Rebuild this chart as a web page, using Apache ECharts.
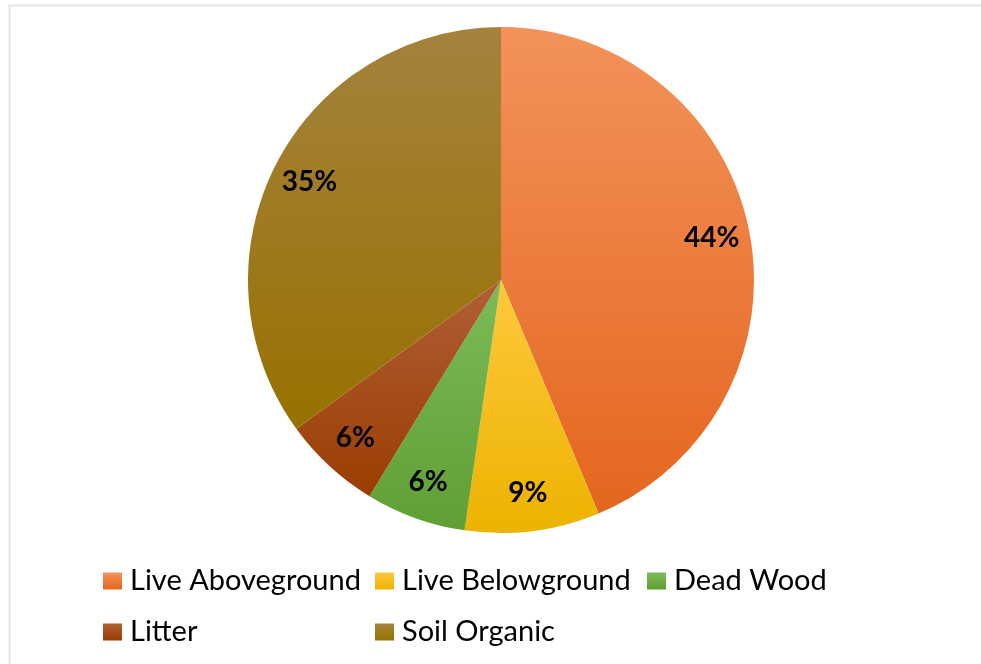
<!DOCTYPE html>
<html>
<head>
<meta charset="utf-8">
<script src="https://cdn.jsdelivr.net/npm/echarts@6/dist/echarts.min.js"></script>
<style>
  html, body { margin: 0; padding: 0; background: #fff; }
  #chart { width: 981px; height: 664px; }
</style>
</head>
<body>
<div id="chart"></div>
<script>
// carbon pool shares (%)
const categories = ['Live Aboveground', 'Live Belowground', 'Dead Wood', 'Litter', 'Soil Organic']
const shares = [43.7, 8.6, 6.4, 6.3, 35.0]

// light top -> dark bottom, like the office-style gradient fill
const topColors = ['#f3925b', '#ffc83c', '#7dbb58', '#b05f38', '#a5823e']
const bottomColors = ['#e4661e', '#ecb300', '#5f9f33', '#9a3d00', '#977100']

const gradient = (i) => new echarts.graphic.LinearGradient(0, 0, 0, 1, [
  { offset: 0, color: topColors[i] },
  { offset: 1, color: bottomColors[i] }
])

const pieData = categories.map((name, i) => ({
  name,
  value: shares[i],
  itemStyle: { color: gradient(i) }
}))

const labelData = categories.map((name, i) => ({ name, value: shares[i] }))

const myChart = echarts.init(document.getElementById('chart'))
myChart.setOption({
  animation: false,
  graphic: [{
    type: 'rect',
    silent: true,
    shape: { x: 9.5, y: 5.5, width: 1000, height: 700 },
    style: { fill: 'none', stroke: '#e3e6ea', lineWidth: 2 }
  }],
  legend: {
    left: 98,
    top: 556,
    width: 830,
    itemWidth: 19,
    itemHeight: 17,
    itemGap: 11,
    icon: 'rect',
    textStyle: {
      fontFamily: 'Lato',
      fontSize: 29,
      color: '#000',
      width: 234,
      lineHeight: 40,
      padding: [0, 0, 0, 3]
    }
  },
  series: [
    {
      name: 'pools',
      type: 'pie',
      center: [501, 280],
      radius: 253,
      startAngle: 90,
      clockwise: true,
      itemStyle: { borderWidth: 0 },
      label: { show: false },
      labelLine: { show: false },
      emphasis: { scale: false },
      data: pieData
    },
    {
      // transparent ring only used to place the labels further out
      name: 'labels',
      type: 'pie',
      center: [501, 280],
      radius: [171, 253],
      startAngle: 90,
      clockwise: true,
      silent: true,
      itemStyle: { color: 'rgba(0,0,0,0)' },
      label: {
        show: true,
        position: 'inside',
        formatter: (p) => Math.round(p.percent) + '%',
        fontFamily: 'Lato',
        fontWeight: 'bold',
        fontSize: 28,
        color: '#000'
      },
      labelLine: { show: false },
      emphasis: { disabled: true },
      data: labelData
    }
  ]
})
</script>
</body>
</html>
